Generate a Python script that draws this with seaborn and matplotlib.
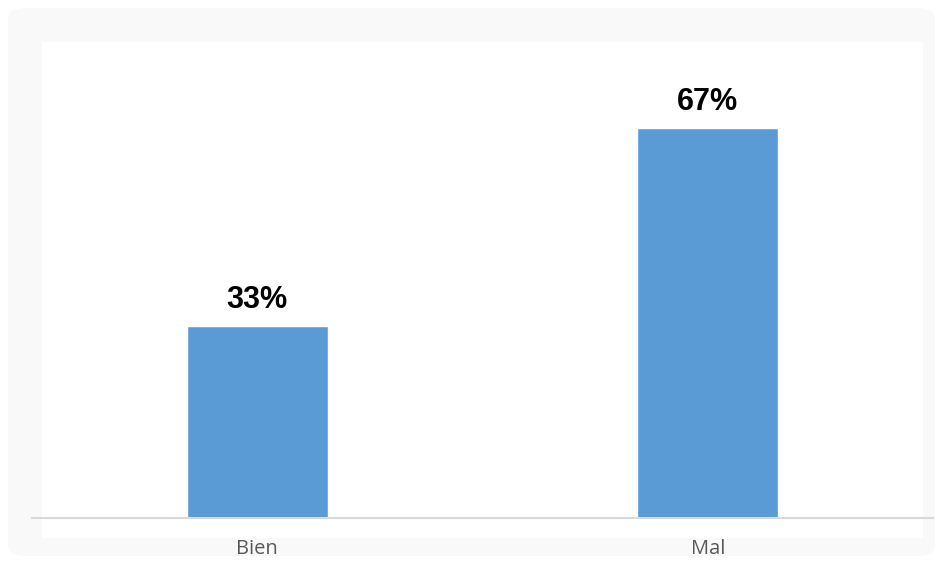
import matplotlib
matplotlib.use("Agg")
import matplotlib.pyplot as plt
import seaborn as sns
import pandas as pd
from matplotlib.patches import FancyBboxPatch, Rectangle

categories = ["Bien", "Mal"]
values = [33, 67]
labels = ["33%", "67%"]

df = pd.DataFrame({"cat": categories, "val": values})

sns.set_theme(style="white")
plt.rcParams['font.family'] = ['Liberation Sans', 'DejaVu Sans']

W, H = 943, 564
fig = plt.figure(figsize=(W / 100, H / 100), dpi=100, facecolor="white")

# light frame background
fig.patches.append(FancyBboxPatch((8 / W, 8 / H), (W - 16) / W, (H - 16) / H,
                                  boxstyle="round,pad=0,rounding_size=0.02",
                                  transform=fig.transFigure, facecolor="#f9f9f9",
                                  edgecolor="none", zorder=-2))
fig.patches.append(Rectangle((42 / W, (H - 538) / H), (923 - 42) / W, (538 - 42) / H,
                             transform=fig.transFigure, facecolor="white",
                             edgecolor="none", zorder=-1))

ax = fig.add_axes([32 / W, (H - 518) / H, (933 - 32) / W, (518 - 40) / H])
ax.set_zorder(1)
ax.set_facecolor("none")
sns.barplot(data=df, x="cat", y="val", color="#5b9bd5", width=0.3125,
            saturation=1, ax=ax)
ax.set_xlim(-0.5, 1.5)
ax.set_ylim(0, 82.2)

for i, (v, t) in enumerate(zip(values, labels)):
    ax.annotate(t, (i, v), xytext=(0, 8), textcoords="offset points",
                ha="center", va="bottom", fontsize=22, fontweight="bold",
                color="black")

ax.set_xlabel("")
ax.set_ylabel("")
ax.set_yticks([])
for s in ["top", "right", "left"]:
    ax.spines[s].set_visible(False)
ax.spines["bottom"].set_color("#d9d9d9")
ax.spines["bottom"].set_linewidth(1.5)
ax.tick_params(axis="x", length=0, pad=15, labelsize=14.5, labelcolor="#595959")
for lbl in ax.get_xticklabels():
    lbl.set_family(["Open Sans", "DejaVu Sans"])

fig.savefig("out.png", dpi=100, facecolor="white")
